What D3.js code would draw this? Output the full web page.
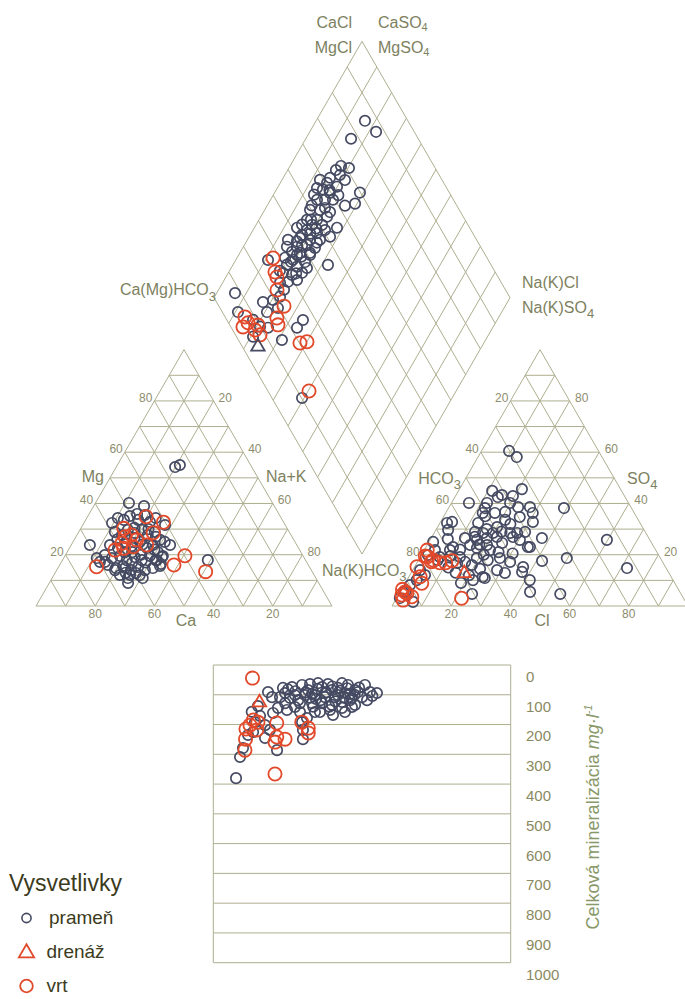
<!DOCTYPE html>
<html>
<head>
<meta charset="utf-8">
<script src="https://cdn.jsdelivr.net/npm/d3@7"></script>
<style>
  body { margin: 0; background: #fff; }
  svg { display: block; }
  text { font-family: "Liberation Sans", Arial, Helvetica, sans-serif; }
</style>
</head>
<body>
<svg id="chart" width="685" height="999"></svg>
<script>
// ---------- data (percent of meq) ----------
// cation triangle: [Mg, Na+K]; Ca is the remainder
const cationSpring = [
  [40.2,11.3],[39,17],[35.9,16.2],[23.8,6.3],[18.7,11.2],[17.2,14.7],[17.9,49.1],[12.1,25.7],[14.8,22.7],[55,21.1],[54.2,19.9],
  [32.4,9.5],[34.3,10.5],[33.6,12.9],[35.1,14.2],[33.6,17.7],[35.5,19.0],[32.8,22.1],[34.3,23.3],[28.9,12.2],[27.7,15.2],
  [29.7,16.2],[28.5,19.1],[29.7,20.9],[27.7,23.9],[28.9,25.7],[25.8,29.0],[23.8,13.1],[22.6,16.4],[24.6,17.8],[23.4,20.7],
  [25.0,22.6],[22.6,26.2],[23.8,27.6],[21.1,30.6],[19.9,13.3],[18.7,16.3],[19.5,18.6],[17.9,21.7],[19.1,23.8],[17.9,26.8],
  [19.5,28.7],[17.9,31.9],[19.5,33.1],[16.0,16.3],[14.8,19.6],[15.6,21.6],[14.0,25.1],[15.2,26.9],[14.0,29.8],[14.8,32.1],
  [15.6,34.1],[12.1,22.3],[10.9,25.6],[12.9,27.3],[10.9,30.6],[9.0,26.6],[14.0,19.7],[17.2,13.0],[23.8,33.4],[31.6,27.8],
  [19.1,33.0],[16.4,34.0],[17.9,31.5],[30.5,18],[26.5,20],[24,24],[21,22],[20,25.5],[26,14.5],[30,23],[22,29],
  [16.8,24],[13,23.8],[21,19.5],[27,27],[17,28.5],[12,29],[25,31]
];
const cationWell = [
  [34.8,19.8],[32.7,26.7],[28.6,25.3],[30.3,14.5],[27.0,16.6],[27.7,18.4],[25.8,21.1],[24.5,16.8],[21.8,15.8],[22.5,18.4],
  [23.1,21.3],[15.3,12.8],[16.0,38.6],[19.6,40.5],[13.4,50.6],[23.8,25.5]
];

// anion triangle: [SO4, Cl]; HCO3 is the remainder
const anionSpring = [
  [60.5,9.3],[58.1,13.1],[44.9,11.4],[45.6,21.1],[40.2,5.9],[42.5,14.5],[42.9,19.4],[40.2,19.8],[40.2,12.0],[38.6,27.3],
  [38.2,39.0],[36.3,29.4],[36.3,12.5],[34.7,25.8],[33.6,21.4],[30.8,20.1],[32.4,2.4],[32.8,3.9],[29.7,4.1],[32.4,12.9],
  [32.8,31.2],[28.5,19.9],[28.9,13.6],[28.5,16.5],[28.5,25.7],[28.5,28.0],[28.9,30.5],[26.5,37.4],[25.8,59.7],[26.5,11.4],
  [26.1,5.8],[25.8,15.8],[26.5,18.8],[26.9,22.0],[26.9,27.4],[23.0,34.4],[23.0,9.1],[22.6,17.4],[23.8,20.2],[24.6,24.9],
  [25.8,30.3],[18.7,49.7],[14.8,72.0],[17.6,41.9],[15.2,36.7],[17.2,31.3],[18.7,27.1],[17.9,23.4],[18.7,19.3],[19.1,13.4],
  [21.8,8.7],[25.0,1.4],[19.9,2.2],[19.1,6.6],[14.0,28.5],[12.9,31.7],[11.3,25.0],[10.1,22.3],[10.1,41.5],[5.5,43.9],
  [4.7,54.5],[4.7,24.7],[9.0,18.8],[14.0,2.5],[10.1,3.3],[1.6,6.3],[43.3,15.5],[38.2,12.3],[36.3,16.6],[36.7,19.9],
  [38.6,23.3],[23.0,35.1],[17.2,16.1],[16.8,13.6],[17.9,6.5],[21.8,3.6],[10.9,25.9],[13.3,37.3],[21.8,22.2],[23.8,14.5],
  [3.1,1.1],[5.5,1.7],[8.2,2.0],[12.1,5.1],[30,17],[27,14.5],[24,17.5],[21,25.5],[20,21],[16,19],[14.5,22.5],[12,20],
  [32,24],[29,22.5],[22,12],[19.5,10],[15,11.5],[35,14],[13,15],[20.5,30.5]
];
const anionWell = [
  [21.8,1.0],[19.2,2.3],[15.3,0.8],[16.9,7.7],[16.9,9.7],[17.7,11.4],[17.9,5.0],[8.9,5.6],[11.4,3.8],[4.3,1.2],
  [5.0,2.5],[2.3,2.6],[3.6,4.9],[6.5,0.3],[5.5,1.7],[3.0,22.0],[19.5,1.5],[17.3,4.7]
];
const anionDrain = [[12.8,18.0]];

// diamond: [Ca+Mg, Cl+SO4]
const diamondSpring = [
  [83.5,85.5],[77.6,87.1],[84.7,77.3],[82.8,68.6],[79.7,70.9],[83.7,66.1],[84.2,62.6],[87.2,58.8],[71.2,69.8],[73.7,62.2],
  [70.7,66.0],[80.1,63.2],[81.3,59.6],[84.3,57.9],[86.6,56.2],[81.6,56.6],[78.9,59.3],[84.3,53.9],[84.7,49.6],[81.3,52.9],
  [77.5,55.9],[72.1,55.2],[77.6,54.0],[83.8,46.6],[80.4,50.0],[85.6,41.7],[81.8,44.6],[77.8,47.4],[72.7,51.1],[86.3,36.3],
  [82.6,40.7],[78.8,43.7],[75.5,47.1],[85.3,34.6],[81.9,38.0],[78.9,41.7],[79.7,37.8],[76.3,41.2],[82.6,35.3],[80.3,36.4],
  [75.9,40.8],[89.1,25.6],[81.8,31.1],[78.0,34.1],[74.4,37.2],[67.9,44.9],[81.5,28.1],[78.1,30.8],[75.1,34.6],[78.1,28.1],
  [75.4,31.5],[80.6,25.2],[93.8,8.0],[82.6,15.7],[79.6,19.5],[77.9,22.5],[79.3,15.1],[89.1,5.3],[82.5,8.9],[78.8,9.9],
  [75.9,12.4],[79.2,5.6],[68.8,14.7],[65.6,25.7],[66.1,22.2],[50.7,10.2],[81.1,47.3],[77.7,50.7],[82.5,42.0],[80.7,34.1],
  [76.2,37.7],[83.8,31.8],[75.6,43.8],[75.7,50.7],[81.4,66.5],[78.7,67.2],[86.3,53.9],[84.2,60.6],[76.4,19.6],[77.9,25.2],
  [80,45],[83,39],[79,48],[76,45.5],[82.5,48],[80,55],[85,51],[82,60],[78,62],[80.5,40],
  [84.5,44],[78.5,37.5],[81,33],[77,32.5],[83,27.5]
];
const diamondWell = [
  [87.8,27.7],[84.4,25.6],[82.8,25.3],[80.2,22.8],[74.7,22.0],[74.8,17.3],[73.1,16.3],[85.8,6.7],[84.5,4.1],[83.6,6.6],
  [79.8,7.6],[77.2,8.3],[79.8,9.5],[62.1,20.2],[60.0,22.8],[49.7,13.9]
];
const diamondDrain = [[75.6,5.3]];

// total mineralisation: [(Cl+SO4) − (Ca+Mg), mg/l]
const mineralSpring = [
  [10.1,94],[2.0,67],[-6.8,141],[-19.6,168],[-63.5,91],[-52.0,128],[-56.8,144],[-60.1,161],[-65.5,202],[-72.3,192],
  [-73.6,225],[-65.5,245],[-57.4,286],[-82.4,309],[-85.1,380],[-40.5,192],[-39.9,218],[-37.2,178],[-31.8,101],[-31.8,158],
  [-21.6,151],[-13.5,124],[-4.7,84],[-9.5,67],[-13.5,61],[-40.5,67],[-47.3,74],[-52.0,94],[-43.2,118],[-36.5,84],
  [-27.0,74],[-20.3,84],[-25.0,108],[-18.2,108],[-11.5,94],[0,108],[-6.8,111],[-33.8,128],[-27.0,128],[-20.3,134],
  [-45.3,141],[-50.7,151],[-45.3,101],[-38.5,101],[-35.1,64],[-29.7,61],[-23.0,64],[-16.2,77],[-8.1,118],[-2.7,91],
  [5.4,91],[-13.5,144],[-28.4,158],[-41.9,158],[-48.6,111],[-55.4,108],[-68.9,171],[-70.3,138],[-60.8,108],[-11.5,158],
  [-33.8,97],[-24.3,91],[-16.2,101],[-31.1,114],[-41.9,128],[-53.4,77],[3.4,118],[-4.7,134],[-62.2,218],[-39.9,249],
  [-77.0,235],[-80.4,279],[-74.5,157],[-30,80],[-20,72],[-10,78],[-5,100],[-15,86],[-25,95],[-35,110],[-45,88],
  [-38,92],[-28,118],[-18,122],[-8,97],[-50,82],[7,104],[-2,76],[-22,140],[-33,140],[-12,108]
];
const mineralWell = [
  [-74.0,44],[-78.4,215],[-78.7,249],[-79.1,286],[-73.4,185],[-71.1,218],[-57.6,195],[-57.6,242],[-52.0,249],[-58.8,259],
  [-58.8,366],[-40.7,192],[-36.3,212],[-36.3,228],[-75.7,202],[-70.3,192]
];
const mineralDrain = [[-69.3,126]];

const triTicks = [20, 40, 60, 80];
const gridSteps = [10, 20, 30, 40, 50, 60, 70, 80, 90];
const tdsTicks = [0, 100, 200, 300, 400, 500, 600, 700, 800, 900, 1000];
const legendItems = [
  { label: "prameň", kind: "spring" },
  { label: "drenáž", kind: "drain" },
  { label: "vrt", kind: "well" }
];

// ---------- styling ----------
const gridColor = "#aeae90";
const tickColor = "#8d8d6d";
const labelColor = "#7d8160";
const springColor = "#454a62";
const wellColor = "#e2492a";

// ---------- geometry ----------
const side = 296;
const tri = side * Math.sqrt(3) / 2;
const gap = 60;
const baseY = 606;
const cat0 = { x: 36, y: baseY };
const an0 = { x: cat0.x + side + gap, y: baseY };
const dia0 = { x: cat0.x + side + gap / 2, y: baseY - gap / 2 * Math.sqrt(3) };
const frac = d3.scaleLinear().domain([0, 100]).range([0, 1]);

const catXY = (mg, na) => [cat0.x + side * frac(na + mg / 2), cat0.y - tri * frac(mg)];
const anXY = (so4, cl) => [an0.x + side * frac(cl + so4 / 2), an0.y - tri * frac(so4)];
const diaXY = (camg, clso4) => [dia0.x + side / 2 * frac(clso4 - camg), dia0.y - tri * frac(clso4 + camg)];

const xT = d3.scaleLinear().domain([-100, 100]).range([dia0.x - side / 2, dia0.x + side / 2]);
const yT = d3.scaleLinear().domain([0, 1000]).range([665, 962.7]);

const svg = d3.select("#chart");
svg.append("rect").attr("width", 685).attr("height", 999).attr("fill", "#fff");

const line = d3.line();
const gGrid = svg.append("g").attr("fill", "none").attr("stroke", gridColor).attr("stroke-width", 1);

function seg(p, q) { gGrid.append("path").attr("d", line([p, q])); }
function poly(pts) { gGrid.append("path").attr("d", line(pts) + "Z"); }

// cation triangle grid
gridSteps.forEach(k => {
  seg(catXY(k, 0), catXY(k, 100 - k));
  seg(catXY(0, k), catXY(100 - k, k));
  seg(catXY(0, 100 - k), catXY(100 - k, 0));
});
poly([catXY(0, 0), catXY(0, 100), catXY(100, 0)]);

// anion triangle grid
gridSteps.forEach(k => {
  seg(anXY(k, 0), anXY(k, 100 - k));
  seg(anXY(0, k), anXY(100 - k, k));
  seg(anXY(0, 100 - k), anXY(100 - k, 0));
});
poly([anXY(0, 0), anXY(0, 100), anXY(100, 0)]);

// diamond grid
gridSteps.forEach(k => {
  seg(diaXY(k, 0), diaXY(k, 100));
  seg(diaXY(0, k), diaXY(100, k));
});
poly([diaXY(0, 0), diaXY(0, 100), diaXY(100, 100), diaXY(100, 0)]);

// mineralisation panel frame and bands
tdsTicks.forEach(v => seg([xT(-100) - 0.7, yT(v)], [xT(100) + 0.7, yT(v)]));
seg([xT(-100) - 0.7, yT(0)], [xT(-100) - 0.7, yT(1000)]);
seg([xT(100) + 0.7, yT(0)], [xT(100) + 0.7, yT(1000)]);

// ---------- tick labels ----------
const gTicks = svg.append("g").attr("fill", tickColor).attr("font-size", 12);
function tick(p, txt, anchor, dx, dy) {
  gTicks.append("text").attr("x", p[0] + dx).attr("y", p[1] + dy)
    .attr("text-anchor", anchor).text(txt);
}
triTicks.forEach(k => {
  tick(catXY(k, 0), k, "end", -2, 1);          // Mg
  tick(catXY(100 - k, k), k, "start", 5, 1);   // Na+K
  tick(catXY(0, 100 - k), k, "middle", 0, 12); // Ca
  tick(anXY(100 - k, 0), k, "end", -2, 1);     // HCO3
  tick(anXY(k, 100 - k), k, "start", 5.5, 1);  // SO4
  tick(anXY(0, k), k, "middle", 0, 12);        // Cl
});

// ---------- axis and field labels ----------
const gLab = svg.append("g").attr("fill", labelColor).attr("font-size", 16);
function label(x, y, anchor, parts) {
  const t = gLab.append("text").attr("x", x).attr("y", y).attr("text-anchor", anchor);
  parts.forEach(p => {
    if (typeof p === "string") t.append("tspan").text(p);
    else t.append("tspan").attr("font-size", p.size || 11).attr("dy", p.dy).text(p.t);
  });
  return t;
}
const cMid = catXY(50, 0), nMid = catXY(50, 50), aMid = anXY(50, 0), sMid = anXY(50, 50);
label(cMid[0] - 6, 482, "end", ["Mg"]);
label(nMid[0] + 8, 482, "start", ["Na+K"]);
label(catXY(0, 50)[0] + 2, 626, "middle", ["Ca"]);
label(aMid[0] - 5, 484, "end", ["HCO", { t: "3", dy: 5, size: 13 }]);
label(sMid[0] + 13, 484, "start", ["SO", { t: "4", dy: 5, size: 13 }]);
label(anXY(0, 50)[0] + 2, 626, "middle", ["Cl"]);

const vTop = diaXY(100, 100), vLeft = diaXY(100, 0), vRight = diaXY(0, 100), vBottom = diaXY(0, 0);
label(vTop[0] - 10, 28, "end", ["CaCl"]);
label(vTop[0] - 10, 53, "end", ["MgCl"]);
label(vTop[0] + 16, 28, "start", ["CaSO", { t: "4", dy: 3, size: 11 }]);
label(vTop[0] + 16, 53, "start", ["MgSO", { t: "4", dy: 3, size: 11 }]);
label(vLeft[0] + 2, 295, "end", ["Ca(Mg)HCO", { t: "3", dy: 6, size: 13 }]);
label(vRight[0] + 12, 288, "start", ["Na(K)Cl"]);
label(vRight[0] + 12, 313, "start", ["Na(K)SO", { t: "4", dy: 5, size: 13 }]);
label(vBottom[0] - 40, 576, "start", ["Na(K)HCO", { t: "3", dy: 5, size: 13 }]);

// ---------- mineralisation axis ----------
const axis = d3.axisRight(yT).tickValues(tdsTicks).tickFormat(d3.format("d")).tickSize(0).tickPadding(16);
const gAxis = svg.append("g").attr("transform", `translate(${xT(100)},0)`).call(axis);
gAxis.select(".domain").remove();
gAxis.selectAll("text").attr("fill", "#8a8a62").attr("font-size", 15)
  .attr("font-family", "Liberation Sans, Arial, sans-serif").attr("dy", 16.4);

const vt = svg.append("text").attr("transform", "translate(599,817) rotate(-90)")
  .attr("text-anchor", "middle").attr("fill", "#899868").attr("font-size", 18);
vt.append("tspan").text("Celková mineralizácia  ");
vt.append("tspan").attr("font-style", "italic").text("mg·l");
vt.append("tspan").attr("font-style", "italic").attr("font-size", 11).attr("dy", -7).text("-1");

// ---------- markers ----------
const gPts = svg.append("g").attr("fill", "none");
function circles(data, pos, color, r, w) {
  gPts.append("g").selectAll("circle").data(data).join("circle")
    .attr("cx", d => pos(d)[0]).attr("cy", d => pos(d)[1])
    .attr("r", r).attr("stroke", color).attr("stroke-width", w);
}
const triSym = d3.symbol().type(d3.symbolTriangle).size(78);
function triangles(data, pos, color) {
  gPts.append("g").selectAll("path").data(data).join("path")
    .attr("d", triSym).attr("transform", d => `translate(${pos(d)[0]},${pos(d)[1]})`)
    .attr("stroke", color).attr("stroke-width", 1.8);
}
const catPos = d => catXY(d[0], d[1]);
const anPos = d => anXY(d[0], d[1]);
const diaPos = d => diaXY(d[0], d[1]);
const tdsPos = d => [xT(d[0]), yT(d[1])];

circles(cationSpring, catPos, springColor, 5.2, 1.7);
circles(anionSpring, anPos, springColor, 5.2, 1.7);
circles(diamondSpring, diaPos, springColor, 5.2, 1.7);
circles(mineralSpring, tdsPos, springColor, 5.2, 1.7);

circles(cationWell, catPos, wellColor, 6.6, 1.8);
circles(anionWell, anPos, wellColor, 6.6, 1.8);
circles(diamondWell, diaPos, wellColor, 6.6, 1.8);
circles(mineralWell, tdsPos, wellColor, 6.6, 1.8);

triangles(anionDrain, anPos, wellColor);
triangles(diamondDrain, diaPos, springColor);
triangles(mineralDrain, tdsPos, wellColor);

// ---------- legend ----------
const gLeg = svg.append("g").attr("fill", "#3b3b1c");
gLeg.append("text").attr("x", 9).attr("y", 891).attr("font-size", 23).text("Vysvetlivky");
const rowY = d3.scalePoint().domain(legendItems.map(d => d.kind)).range([918, 986]);
legendItems.forEach(it => {
  const y = rowY(it.kind);
  if (it.kind === "spring") {
    gLeg.append("circle").attr("cx", 26.5).attr("cy", y).attr("r", 4.6)
      .attr("fill", "none").attr("stroke", springColor).attr("stroke-width", 1.6);
  } else if (it.kind === "drain") {
    gLeg.append("path").attr("d", d3.symbol().type(d3.symbolTriangle).size(100)())
      .attr("transform", `translate(26.5,${y + 1})`)
      .attr("fill", "none").attr("stroke", wellColor).attr("stroke-width", 1.8);
  } else {
    gLeg.append("circle").attr("cx", 26.5).attr("cy", y).attr("r", 6.3)
      .attr("fill", "none").attr("stroke", wellColor).attr("stroke-width", 1.8);
  }
  gLeg.append("text").attr("x", it.kind === "spring" ? 49 : 46.5).attr("y", y + 6)
    .attr("font-size", 19).text(it.label);
});
</script>
</body>
</html>
